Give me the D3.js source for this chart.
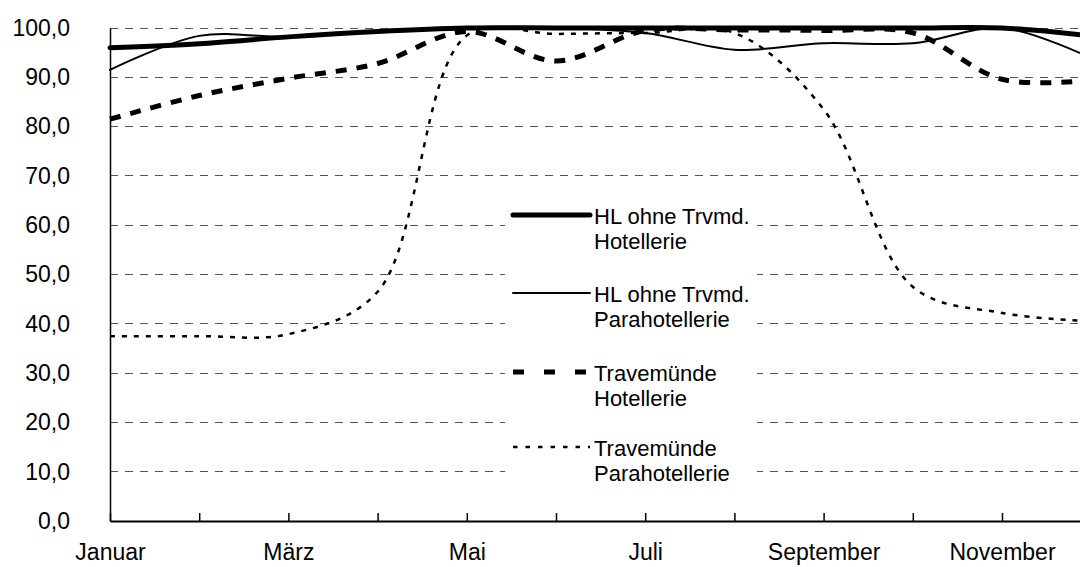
<!DOCTYPE html>
<html>
<head>
<meta charset="utf-8">
<script src="https://cdn.jsdelivr.net/npm/d3@7"></script>
<style>
  html, body { margin: 0; padding: 0; background: #fff; }
  svg { display: block; font-family: Arial, "Liberation Sans", sans-serif; }
</style>
</head>
<body>
<svg id="chart" width="1080" height="567"></svg>
<script>
// ---- data ----
const months = ["Januar","Februar","März","April","Mai","Juni","Juli","August","September","Oktober","November","Dezember"];
const hlHotellerie      = [96.0, 96.8, 98.2, 99.3, 100, 100, 100, 100, 100, 100, 100, 98.4];
const hlParahotellerie  = [91.5, 98.4, 98.2, 99.5, 100, 100, 99.0, 95.6, 96.9, 96.9, 100, 93.9];
const tvHotellerie      = [81.5, 86.3, 89.8, 92.8, 99.3, 93.3, 99.5, 99.6, 99.5, 99.0, 89.6, 89.4];
const tvParahotellerie  = [37.5, 37.5, 37.9, 46.5, 98.5, 98.8, 99.0, 99.0, 83.5, 47.5, 42.2, 40.5];
const yTicks = [0, 10, 20, 30, 40, 50, 60, 70, 80, 90, 100];
const legendLabels = [
  ["HL ohne Trvmd.", "Hotellerie"],
  ["HL ohne Trvmd.", "Parahotellerie"],
  ["Travemünde", "Hotellerie"],
  ["Travemünde", "Parahotellerie"]
];

// ---- layout ----
const svg = d3.select("#chart");
const left = 110, step = 89.2;
const x = d3.scalePoint().domain(months).range([left, left + step * (months.length - 1)]);
const y = d3.scaleLinear().domain([0, 100]).range([521, 28]);
const plotRight = left + step * (months.length - 1);

const locale = d3.formatLocale({decimal: ",", thousands: ".", grouping: [3], currency: ["", " €"]});
const fmt = locale.format(".1f");

// gridlines
svg.append("g").selectAll("line")
  .data(yTicks.filter(d => d > 0))
  .join("line")
  .attr("x1", left).attr("x2", plotRight)
  .attr("y1", d => y(d)).attr("y2", d => y(d))
  .attr("stroke", "#555").attr("stroke-width", 1)
  .attr("stroke-dasharray", "8,7")
  .attr("shape-rendering", "crispEdges");

// y axis
const yAxis = svg.append("g").attr("transform", `translate(${left},0)`)
  .call(d3.axisLeft(y).tickValues(yTicks).tickSize(0).tickPadding(40).tickFormat(fmt));
yAxis.select(".domain").attr("stroke", "#000").attr("stroke-width", 1.5);
yAxis.selectAll("text").attr("font-size", 23).attr("fill", "#000")
  .attr("font-family", "Arial, 'Liberation Sans', sans-serif");

// x axis
const xAxis = svg.append("g").attr("transform", `translate(0,${y(0)})`)
  .call(d3.axisBottom(x).tickSize(-8).tickSizeOuter(0).tickPadding(23)
    .tickFormat((d, i) => i % 2 === 0 ? d : ""));
xAxis.select(".domain").attr("stroke", "#000").attr("stroke-width", 2);
xAxis.selectAll(".tick line").attr("stroke", "#000").attr("stroke-width", 1.5);
xAxis.selectAll("text").attr("font-size", 23).attr("fill", "#000")
  .attr("font-family", "Arial, 'Liberation Sans', sans-serif");

// lines
const curve = d3.curveCatmullRom.alpha(0.5);
const series = [
  {values: tvParahotellerie, width: 2.5, dash: "5,7",  cap: "butt"},
  {values: tvHotellerie,     width: 5,   dash: "11,10", cap: "butt"},
  {values: hlParahotellerie, width: 2,   dash: null,   cap: "round"},
  {values: hlHotellerie,     width: 5,   dash: null,   cap: "round"}
];
const line = d3.line().x((d, i) => x(months[i])).y(d => y(d)).curve(curve);
series.forEach(s => {
  svg.append("path")
    .datum(s.values)
    .attr("d", line)
    .attr("fill", "none")
    .attr("stroke", "#000")
    .attr("stroke-width", s.width)
    .attr("stroke-linejoin", "round")
    .attr("stroke-linecap", s.cap)
    .attr("stroke-dasharray", s.dash);
});

// legend
const legend = svg.append("g");
legend.append("rect").attr("x", 505).attr("y", 197).attr("width", 252).attr("height", 293).attr("fill", "#fff");
const legendStyles = [
  {width: 5,   dash: null,    cap: "round"},
  {width: 2,   dash: null,    cap: "round"},
  {width: 5,   dash: "11,20", cap: "butt"},
  {width: 2.5, dash: "4.5,8", cap: "butt"}
];
const legendLineY = [215, 293, 372, 447];
legendLabels.forEach((lbl, i) => {
  const st = legendStyles[i];
  legend.append("line")
    .attr("x1", 513).attr("x2", 590)
    .attr("y1", legendLineY[i]).attr("y2", legendLineY[i])
    .attr("stroke", "#000").attr("stroke-width", st.width)
    .attr("stroke-linecap", st.cap)
    .attr("stroke-dasharray", st.dash);
  const t = legend.append("text")
    .attr("x", 594).attr("y", legendLineY[i] + 9)
    .attr("font-size", 22).attr("fill", "#000");
  t.append("tspan").attr("x", 594).text(lbl[0]);
  t.append("tspan").attr("x", 594).attr("dy", 24.5).text(lbl[1]);
});
</script>
</body>
</html>
